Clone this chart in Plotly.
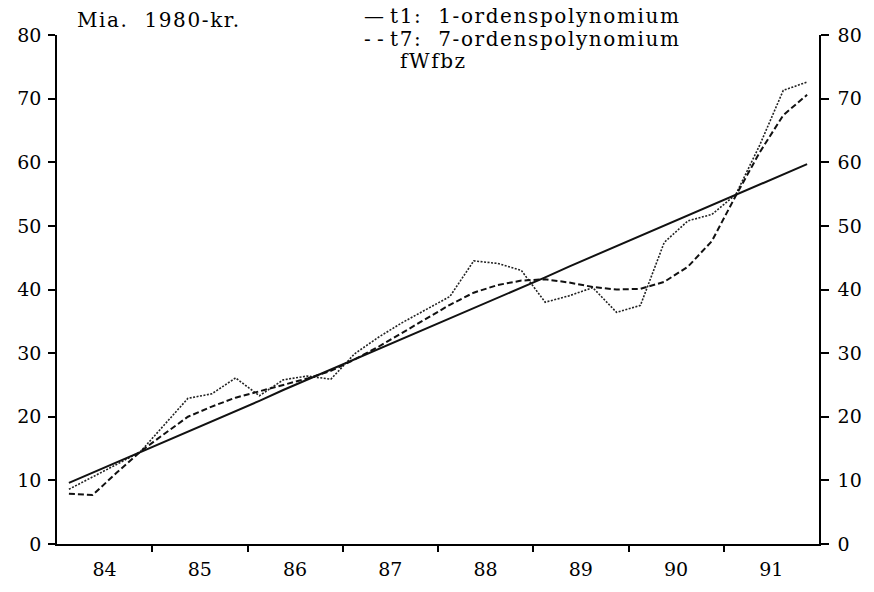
import plotly.graph_objects as go

# Quarterly periods 1984:1 - 1991:4
years = [1984, 1985, 1986, 1987, 1988, 1989, 1990, 1991]
quarters = [f"{y}:{q}" for y in years for q in (1, 2, 3, 4)]

# t1: 1st-order polynomial (linear trend), Mia. 1980-kr.
t1 = [9.6, 11.2, 12.8, 14.4, 16.1, 17.7, 19.3, 20.9,
      22.5, 24.2, 25.8, 27.4, 29.0, 30.6, 32.2, 33.9,
      35.5, 37.1, 38.7, 40.3, 41.9, 43.6, 45.2, 46.8,
      48.4, 50.0, 51.6, 53.3, 54.9, 56.5, 58.1, 59.7]

# t7: 7th-order polynomial
t7 = [7.9, 7.7, 11.2, 14.5, 17.3, 20.0, 21.6, 23.0,
      24.0, 25.0, 26.0, 27.2, 29.0, 31.0, 33.2, 35.3,
      37.6, 39.5, 40.7, 41.4, 41.6, 41.1, 40.4, 40.0,
      40.1, 41.2, 43.6, 47.6, 54.7, 61.5, 67.4, 70.6]

# fWfbz: actual series
fwfbz = [8.6, 10.5, 12.5, 14.5, 18.7, 22.9, 23.6, 26.1,
         23.3, 25.8, 26.4, 25.9, 29.9, 32.5, 34.8, 36.8,
         38.9, 44.5, 44.1, 43.0, 38.0, 39.0, 40.3, 36.4,
         37.5, 47.4, 50.8, 51.8, 54.9, 62.6, 71.3, 72.6]

year_labels = ["84", "85", "86", "87", "88", "89", "90", "91"]
y_ticks = [0, 10, 20, 30, 40, 50, 60, 70, 80]


def qpos(label):
    y, q = label.split(":")
    return int(y) + (int(q) - 0.5) / 4.0


x = [qpos(q) for q in quarters]

FONT = "DejaVu Serif"
W, H = 874, 592
L, R, T, B = 57, 51, 35, 38
PW, PH = W - L - R, H - T - B


def px(xp):
    return (xp - L) / PW


def py(yp):
    return (H - B - yp) / PH


fig = go.Figure()
fig.add_trace(go.Scatter(x=x, y=fwfbz, mode="lines", name="fWfbz",
                         line=dict(color="#222", width=1.6, dash="2px,1.5px")))
fig.add_trace(go.Scatter(x=x, y=t7, mode="lines", name="t7: 7-ordenspolynomium",
                         line=dict(color="#111", width=2, dash="6px,3px")))
fig.add_trace(go.Scatter(x=x, y=t1, mode="lines", name="t1: 1-ordenspolynomium",
                         line=dict(color="#111", width=2)))
# empty trace so the right-hand axis is drawn
fig.add_trace(go.Scatter(x=[None], y=[None], yaxis="y2", showlegend=False,
                         hoverinfo="skip"))

axis_font = dict(family=FONT, size=19, color="black")
fig.update_layout(
    width=W, height=H,
    margin=dict(l=L, r=R, t=T, b=B, pad=0),
    paper_bgcolor="white", plot_bgcolor="white",
    showlegend=False,
    xaxis=dict(range=[1984.0, 1992.0],
               tickvals=[y + 0.5 for y in years], ticktext=year_labels,
               ticks="", showgrid=False, zeroline=False,
               showline=True, linecolor="black", linewidth=1.5,
               tickfont=axis_font, ticklabelstandoff=7,
               minor=dict(tickvals=years[1:], ticks="outside", ticklen=6,
                          tickwidth=1.5, tickcolor="black", showgrid=False)),
    yaxis=dict(range=[0, 80], tickvals=y_ticks, ticks="outside", ticklen=7,
               tickwidth=1.5, tickcolor="black", showgrid=False, zeroline=False,
               showline=True, linecolor="black", linewidth=1.5,
               tickfont=axis_font, ticklabelstandoff=3),
    yaxis2=dict(range=[0, 80], tickvals=y_ticks, ticks="outside", ticklen=8,
                tickwidth=1.5, tickcolor="black", showgrid=False, zeroline=False,
                showline=True, linecolor="black", linewidth=1.5,
                overlaying="y", side="right", matches="y",
                tickfont=axis_font, ticklabelstandoff=5),
)

txt_font = dict(family=FONT, size=20, color="black")
SP = '<span style="letter-spacing:1.6px">{}</span>'


def note(xp, yp, text, anchor="left"):
    fig.add_annotation(x=px(xp), y=py(yp), xref="paper", yref="paper",
                       xanchor=anchor, yanchor="middle", text=text,
                       showarrow=False, font=txt_font)


note(75, 20, SP.format("Mia.\u00a0 1980-kr."))
note(388, 16, "\u2014", anchor="right")
note(388, 39, "- -", anchor="right")
note(390, 16, SP.format("t1:\u00a0 1-ordenspolynomium"))
note(390, 39, SP.format("t7:\u00a0 7-ordenspolynomium"))
note(400, 62, SP.format("fWfbz"))

fig.write_html("out.html")
